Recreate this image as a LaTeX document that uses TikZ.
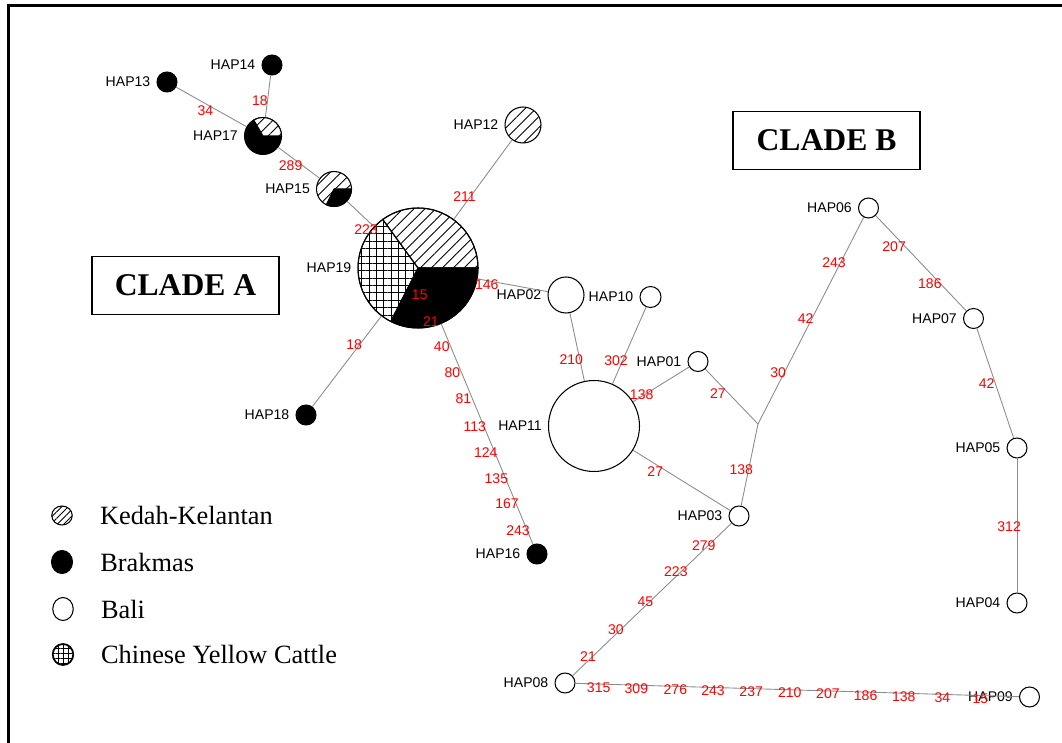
\documentclass[tikz,border=0pt]{standalone}
\usepackage{fontspec}
\setmainfont{Liberation Serif}
\newfontfamily\hapfont{Liberation Sans}
\usetikzlibrary{patterns.meta,shapes.geometric,positioning}

\begin{document}
\begin{tikzpicture}[x=0.02cm,y=-0.02cm,
  every edge/.style={draw=black!45,line width=.5pt},
  hap/.style={circle,draw,line width=.6pt,inner sep=0pt,minimum size=0.4cm},
  brak/.style={hap,fill=black},
  hapl/.style={font=\hapfont\fontsize{8}{9}\selectfont},
  num/.style={font=\hapfont\fontsize{8}{9}\selectfont,text=red,inner sep=0pt,xshift=-4.5pt,yshift=-1.7pt},
  kk/.style={pattern={Lines[angle=45,distance=4.4pt,line width=.5pt]}},
  cyc/.style={pattern={Hatch[angle=0,distance=4.2pt,line width=.5pt]}},
  clade/.style={draw,line width=1.1pt,minimum width=3.74cm,minimum height=1.16cm,font=\fontsize{18}{20}\selectfont\bfseries},
  legicon/.style={ellipse,draw,line width=.6pt,inner sep=0pt},
  legtxt/.style={inner sep=0pt,font=\fontsize{15}{17}\selectfont}]
  \useasboundingbox (0,0) rectangle (1062,743);
  \draw[line width=1.5pt] (8.7,760) -- (8.7,5.5) -- (1080,5.5);

  \node[clade] (ca) at (185.5,285.5) {CLADE A};
  \node[clade] (cb) at (826.5,140.5) {CLADE B};

  \node[brak, label={[hapl]left:HAP13}] (13) at (167,82) {};
  \node[brak, label={[hapl]left:HAP14}] (14) at (272,65) {};
  \node[brak, minimum size=0.74cm, label={[hapl]left:HAP17}] (17) at (263,136) {};
  \node[hap, kk, minimum size=0.7cm, label={[hapl]left:HAP15}] (15) at (334,189) {};
  \node[hap, kk, minimum size=0.72cm, label={[hapl]left:HAP12}] (12) at (523,125) {};
  \node[hap, minimum size=2.4cm, label={[hapl]left:HAP19}] (19) at (418,268) {};
  \node[brak, label={[hapl]left:HAP18}] (18) at (306,415) {};
  \node[brak, label={[hapl]left:HAP16}] (16) at (537,554) {};
  \node[hap, minimum size=0.72cm, label={[hapl]left:HAP02}] (02) at (566,295) {};
  \node[hap, minimum size=0.42cm, label={[hapl]left:HAP10}] (10) at (650.5,297) {};
  \node[hap, label={[hapl]left:HAP01}] (01) at (698,361.5) {};
  \node[hap, minimum size=1.82cm, label={[hapl]left:HAP11}] (11) at (594,426) {};
  \node[hap, label={[hapl]left:HAP03}] (03) at (739,516) {};
  \node[hap, label={[hapl]left:HAP06}] (06) at (868.5,208) {};
  \node[hap, label={[hapl]left:HAP07}] (07) at (973.5,318.5) {};
  \node[hap, label={[hapl]left:HAP05}] (05) at (1017,448) {};
  \node[hap, label={[hapl]left:HAP04}] (04) at (1017,603) {};
  \node[hap, label={[hapl]left:HAP08}] (08) at (565,683) {};
  \node[hap, label={[hapl]left:HAP09}] (09) at (1029.5,697) {};
  \coordinate (j) at (758,424);

  \draw[line width=.6pt, kk, preaction={fill=white}] (17.center) -- ++(0:0.37cm) arc[start angle=0,end angle=120,radius=0.37cm] -- cycle;
  \filldraw[line width=.6pt] (15.center) -- ++(-116:0.35cm) arc[start angle=-116,end angle=0,radius=0.35cm] -- cycle;
  \draw[line width=.6pt, kk] (19.center) -- ++(0:1.2cm) arc[start angle=0,end angle=126,radius=1.2cm] -- cycle;
  \draw[line width=.6pt, cyc] (19.center) -- ++(126:1.2cm) arc[start angle=126,end angle=243,radius=1.2cm] -- cycle;
  \filldraw[line width=.6pt] (19.center) -- ++(243:1.2cm) arc[start angle=243,end angle=360,radius=1.2cm] -- cycle;

  \path[every node/.style={num}]
    (13) edge node[pos=.53] {34} (17)
    (14) edge node[pos=.54] {18} (17)
    (17) edge node[pos=.49] {289} (15)
    (15) edge node[pos=1] {223} (19)
    (12) edge node[pos=.68] {211} (19)
    (19) edge node[pos=.28] {18} (18)
         edge node[pos=.245] {146} (02)
         edge node[pos=-.148] {15} node[pos=-.026] {21} node[pos=.092] {40}
              node[pos=.207] {80} node[pos=.327] {81} node[pos=.452] {113}
              node[pos=.572] {124} node[pos=.687] {135} node[pos=.803] {167}
              node[pos=.923] {243} (16)
    (02) edge node[pos=.64] {210} (11)
    (10) edge node[pos=.66] {302} (11)
    (11) edge node[pos=.295] {138} (01)
         edge node[pos=.31] {27} (03)
    (01) edge node[pos=.39] {27} (j)
    (j) edge node[pos=.265] {30} node[pos=.525] {42} node[pos=.794] {243} (06)
        edge node[pos=.52] {138} (03)
    (06) edge node[pos=.29] {207} node[pos=.685] {186} (07)
    (07) edge node[pos=.48] {42} (05)
    (05) edge node[pos=.49] {312} (04)
    (03) edge node[pos=.124] {279} node[pos=.30] {223} node[pos=.492] {45}
              node[pos=.677] {30} node[pos=.853] {21} (08)
    (08) edge node[pos=.07] {315} node[pos=.155] {309} node[pos=.243] {276}
              node[pos=.328] {243} node[pos=.414] {237} node[pos=.501] {210}
              node[pos=.587] {207} node[pos=.672] {186} node[pos=.758] {138}
              node[pos=.845] {34} node[pos=.931] {15} (09);

  \node[legicon, pattern={Lines[angle=45,distance=2.6pt,line width=.5pt]}, minimum width=0.41cm, minimum height=0.38cm] (lk) at (62,515.5) {};
  \node[legicon, fill=black, minimum width=0.42cm, minimum height=0.46cm] (lb) at (62,562) {};
  \node[legicon, minimum width=0.41cm, minimum height=0.46cm] (lw) at (63,609) {};
  \node[legicon, line width=1pt, pattern={Hatch[angle=0,distance=3pt,line width=.5pt]}, minimum width=0.41cm, minimum height=0.42cm] (lc) at (63,654.5) {};
  \node[legtxt, right=0.54cm of lk] (tk) {Kedah-Kelantan};
  \node[legtxt, right=0.54cm of lb] (tb) {Brakmas};
  \node[legtxt, right=0.54cm of lw] (tw) {Bali};
  \node[legtxt, right=0.54cm of lc] (tc) {Chinese Yellow Cattle};
\end{tikzpicture}
\end{document}
